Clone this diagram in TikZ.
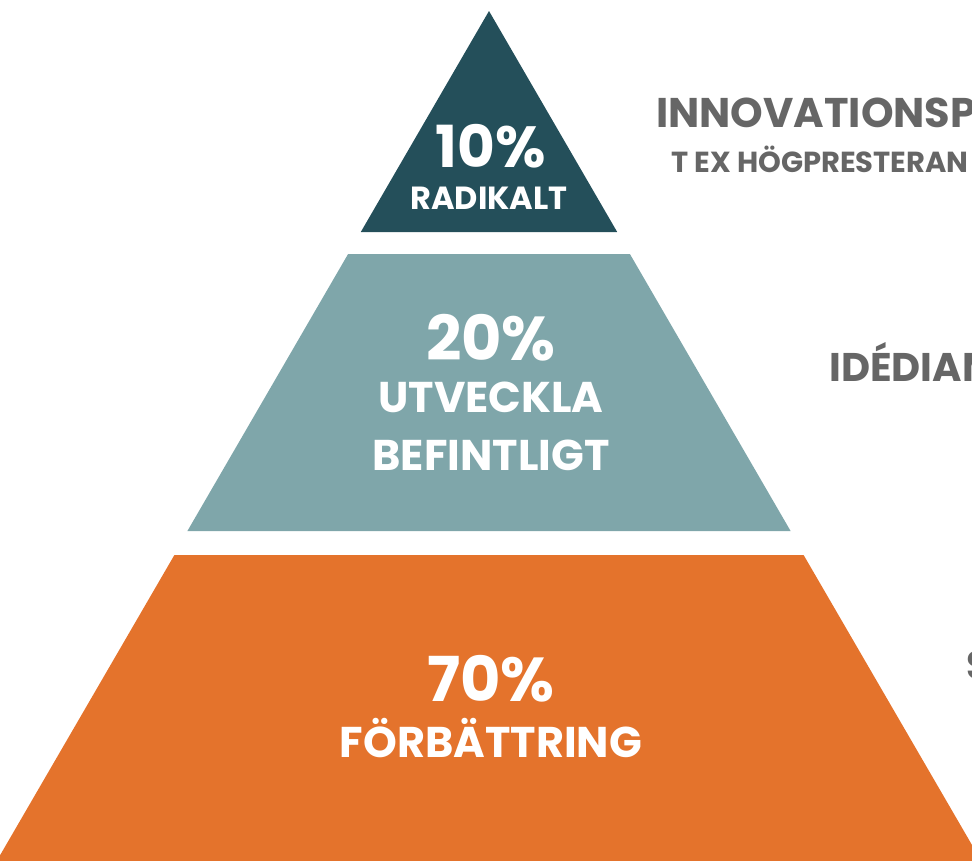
\documentclass[tikz,border=0pt]{standalone}
\usepackage{fontspec}
\setmainfont{Poppins}
\definecolor{topc}{HTML}{244F5A}
\definecolor{midc}{HTML}{7FA6AA}
\definecolor{botc}{HTML}{E4732C}
\definecolor{txtg}{HTML}{666666}
\begin{document}
\begin{tikzpicture}[x=1pt,y=-1pt,
  lbl/.style={text=white,font=\bfseries,inner sep=0pt,anchor=center},
  side/.style={text=txtg,font=\bfseries,inner sep=0pt,anchor=west}]
\useasboundingbox (0,0) rectangle (972,860);
\clip (0,0) rectangle (972,860);
% slope 0.58 from apex (489,11)
\fill[topc] (489,11) -- (617.2,232) -- (360.8,232) -- cycle;
\fill[midc] (348.1,254) -- (629.9,254) -- (790.6,531) -- (187.4,531) -- cycle;
\fill[botc] (174.4,555) -- (803.6,555) -- (990,876) -- (-12,876) -- cycle;
\node[lbl,font=\bfseries\fontsize{58}{58}\selectfont] (p1) at (491,146) {10\%};
\node[lbl,font=\bfseries\fontsize{32}{32}\selectfont] (t1) at (489,198) {RADIKALT};
\node[lbl,font=\bfseries\fontsize{62}{62}\selectfont] (p2) at (491,338) {20\%};
\node[lbl,font=\bfseries\fontsize{43}{43}\selectfont] (t2) at (491,397) {UTVECKLA};
\node[lbl,font=\bfseries\fontsize{43}{43}\selectfont] (t3) at (491,455) {BEFINTLIGT};
\node[lbl,font=\bfseries\fontsize{62}{62}\selectfont] (p3) at (491,679) {70\%};
\node[lbl,font=\bfseries\fontsize{43}{43}\selectfont] (t4) at (491,738) {FÖRBÄTTRING};
\node[side,font=\bfseries\fontsize{41.5}{41.5}\selectfont] (s1) at (656,113) {INNOVATIONSP};
\node[side,font=\bfseries\fontsize{29}{29}\selectfont] (s2) at (671,159) {T EX HÖGPRESTERAN};
\node[side,font=\bfseries\fontsize{40}{40}\selectfont] (s3) at (829,362) {IDÉDIAM};
\node[side,font=\bfseries\fontsize{40}{40}\selectfont] (s4) at (966,665) {S};
\end{tikzpicture}
\end{document}
